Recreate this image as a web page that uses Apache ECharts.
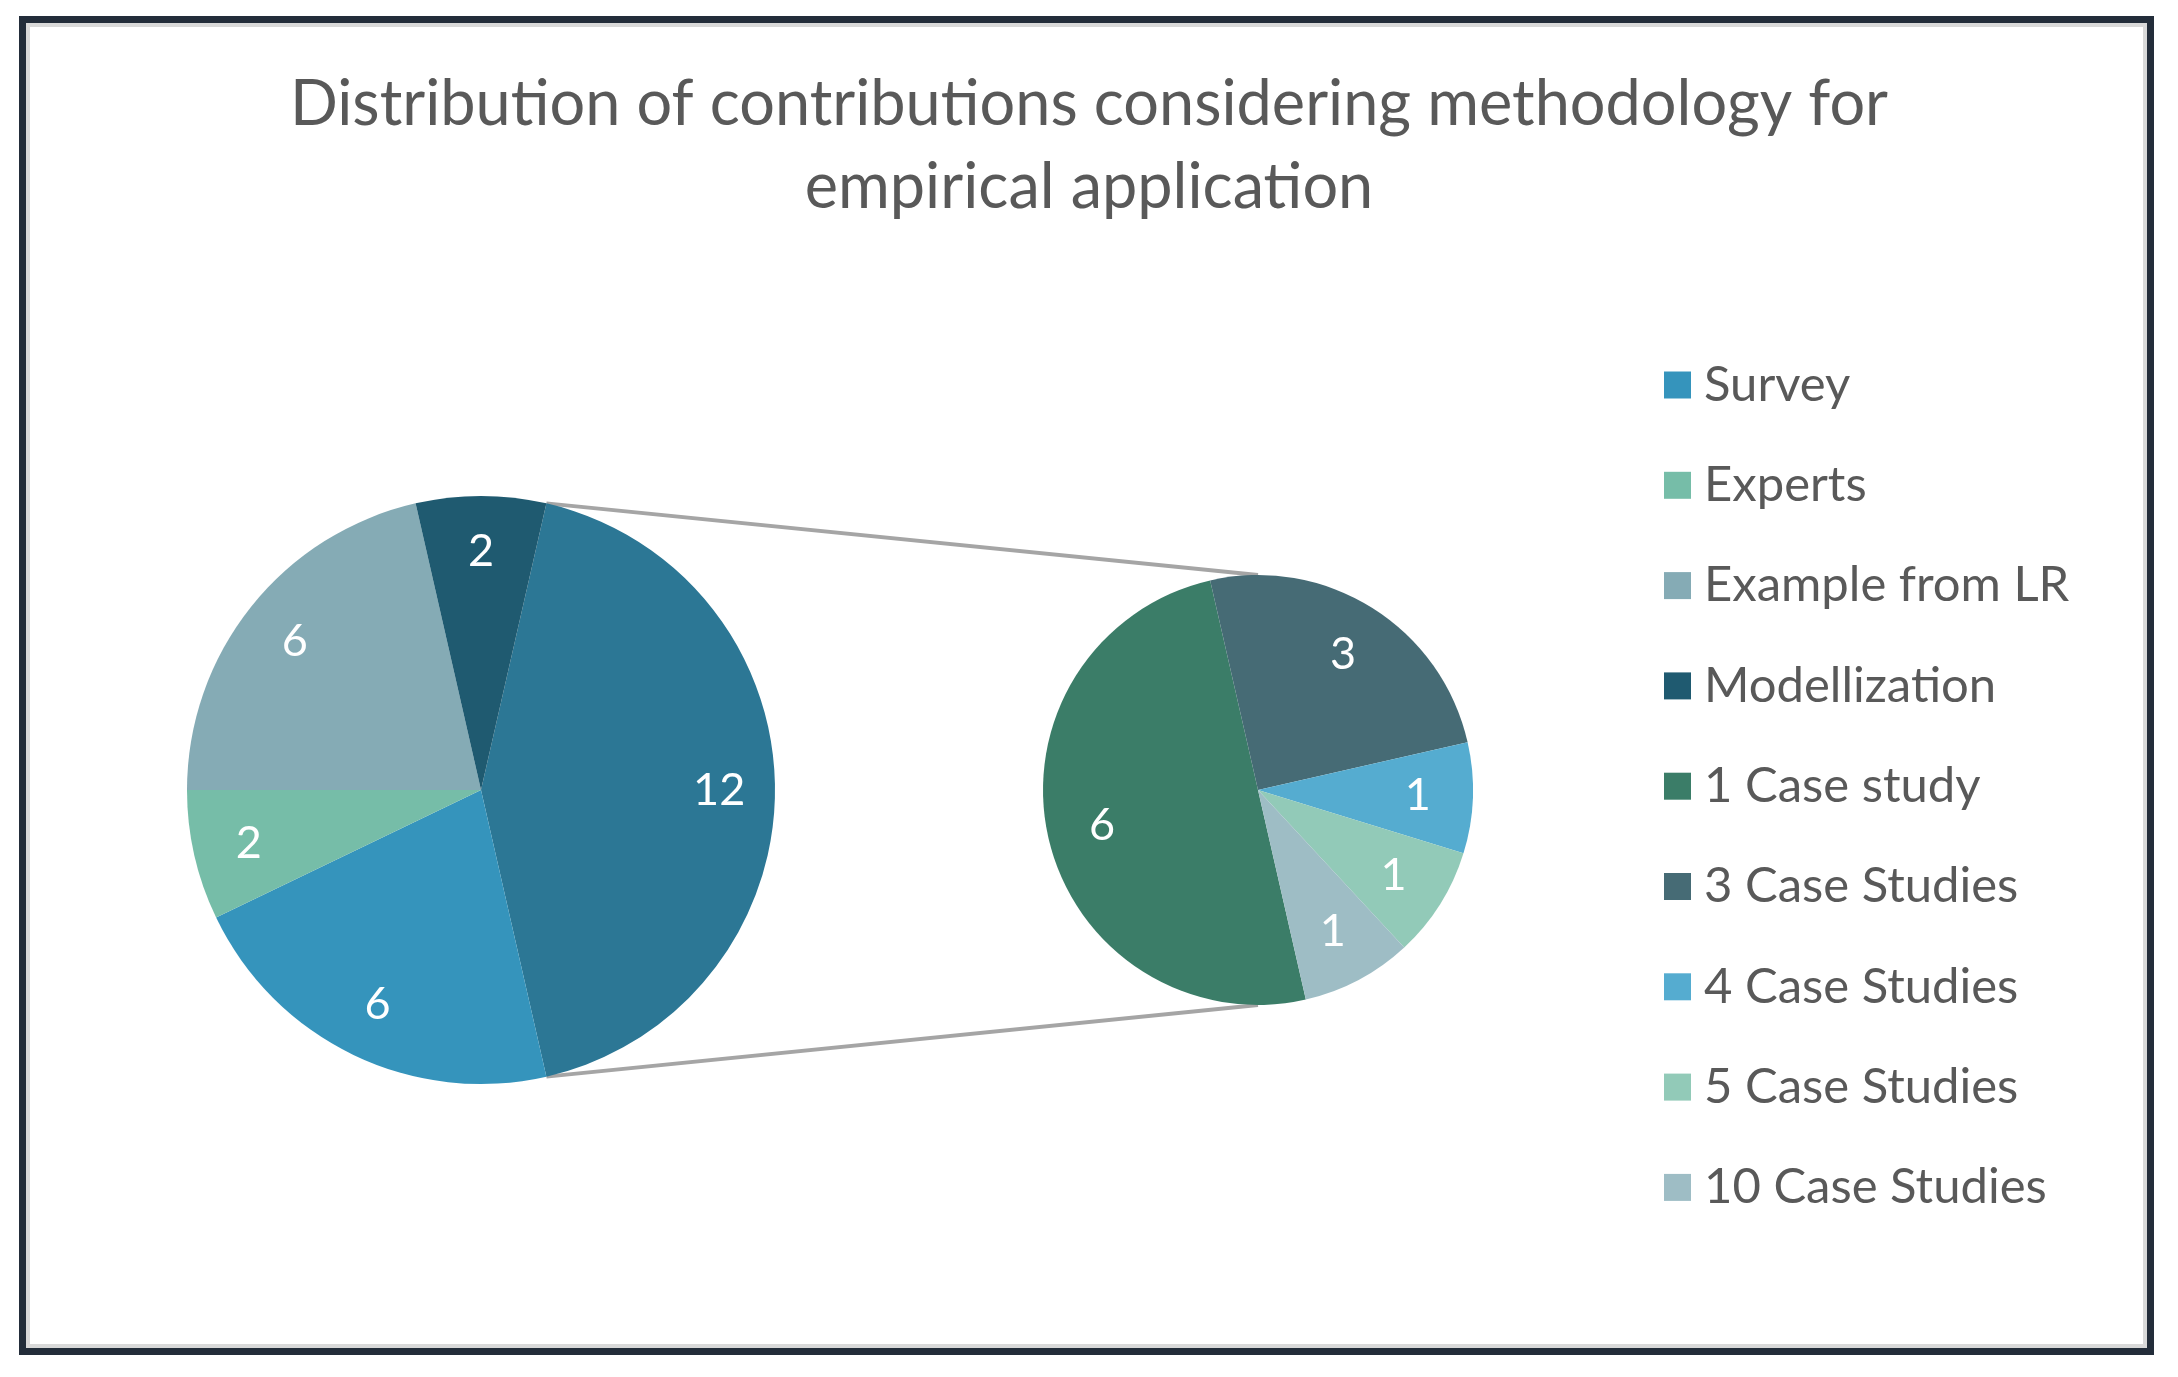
<!DOCTYPE html>
<html>
<head>
<meta charset="utf-8">
<script src="https://cdn.jsdelivr.net/npm/echarts@6/dist/echarts.min.js"></script>
<style>
html,body{margin:0;padding:0;background:#fff;}
#chart{width:2178px;height:1377px;}
</style>
</head>
<body>
<div id="chart"></div>
<script>
// ---- data ----
const titleText = 'Distribution of contributions considering methodology for\nempirical application';
const mainCategories = ['Survey', 'Experts', 'Example from LR', 'Modellization'];
const mainValues = [6, 2, 6, 2];
const detailCategories = ['1 Case study', '3 Case Studies', '4 Case Studies', '5 Case Studies', '10 Case Studies'];
const detailValues = [6, 3, 1, 1, 1];

// ---- style ----
const mainColors = ['#3594BC', '#76BDA8', '#85ABB5', '#1F5A70'];
const otherColor = '#2C7795';
const detailColors = ['#3B7D68', '#466B75', '#55ACD0', '#92CAB8', '#9EBDC5'];
const FONT = 'Lato';

const c1 = [481, 790], r1 = 294;
const c2 = [1258, 790], r2 = 215;

const otherValue = detailValues.reduce((a, b) => a + b, 0);
const total = otherValue + mainValues.reduce((a, b) => a + b, 0);
const half = 180 * otherValue / total;      // half-angle of "other" slice
const start1 = half;
const start2 = 360 - half;

const leftData = [{ name: 'Other', value: otherValue, itemStyle: { color: otherColor } }]
  .concat(mainCategories.map((n, i) => ({ name: n, value: mainValues[i], itemStyle: { color: mainColors[i] } })));
const rightData = detailCategories.map((n, i) => ({ name: n, value: detailValues[i], itemStyle: { color: detailColors[i] } }));

function pie(center, radius, start, data, withLabel, inner) {
  return {
    type: 'pie',
    center: center,
    radius: withLabel ? [radius * inner, radius] : [0, radius],
    startAngle: start,
    clockwise: true,
    silent: true,
    animation: false,
    avoidLabelOverlap: false,
    labelLine: { show: false },
    itemStyle: withLabel ? { color: 'rgba(0,0,0,0)', borderWidth: 0 } : { borderWidth: 0 },
    label: withLabel ? {
      show: true, position: 'inside', formatter: '{c}',
      color: '#ffffff', fontFamily: FONT, fontSize: 45
    } : { show: false },
    emphasis: { disabled: true },
    data: withLabel ? data.map(d => ({ name: d.name, value: d.value, itemStyle: { color: 'rgba(0,0,0,0)' } })) : data
  };
}

// connector lines from the "other" slice edges to the secondary pie
const rad = half * Math.PI / 180;
const pTop1 = [c1[0] + r1 * Math.cos(rad), c1[1] - r1 * Math.sin(rad)];
const pBot1 = [c1[0] + r1 * Math.cos(rad), c1[1] + r1 * Math.sin(rad)];
const pTop2 = [c2[0], c2[1] - r2];
const pBot2 = [c2[0], c2[1] + r2];

const chart = echarts.init(document.getElementById('chart'), null, { renderer: 'canvas' });
chart.setOption({
  backgroundColor: '#ffffff',
  animation: false,
  title: {
    text: titleText,
    left: 'center',
    top: 58,
    textStyle: { fontFamily: FONT, fontSize: 63, fontWeight: 'normal', color: '#595959', lineHeight: 83 }
  },
  legend: {
    orient: 'vertical',
    left: 1659,
    top: 355,
    icon: 'rect',
    itemWidth: 27,
    itemHeight: 27,
    itemGap: 50.3,
    data: mainCategories.concat(detailCategories),
    textStyle: { fontFamily: FONT, fontSize: 49, color: '#595959', lineHeight: 50, padding: [0, 0, 0, 8] },
    selectedMode: false
  },
  graphic: [
    { type: 'rect', shape: { x: 22.5, y: 19.5, width: 2128, height: 1332 }, style: { fill: 'none', stroke: '#232D3A', lineWidth: 7 }, z: 100 },
    { type: 'rect', shape: { x: 28, y: 25, width: 2117, height: 1321 }, style: { fill: 'none', stroke: '#D9D9D9', lineWidth: 4 }, z: 100 },
    { type: 'line', shape: { x1: pTop1[0], y1: pTop1[1], x2: pTop2[0], y2: pTop2[1] }, style: { stroke: '#A5A5A5', lineWidth: 4 }, z: -1 },
    { type: 'line', shape: { x1: pBot1[0], y1: pBot1[1], x2: pBot2[0], y2: pBot2[1] }, style: { stroke: '#A5A5A5', lineWidth: 4 }, z: -1 }
  ],
  series: [
    pie(c1, r1, start1, leftData, false),
    pie(c2, r2, start2, rightData, false),
    pie(c1, r1, start1, leftData, true, 0.6),
    pie(c2, r2, start2, rightData, true, 0.46)
  ]
});
</script>
</body>
</html>
